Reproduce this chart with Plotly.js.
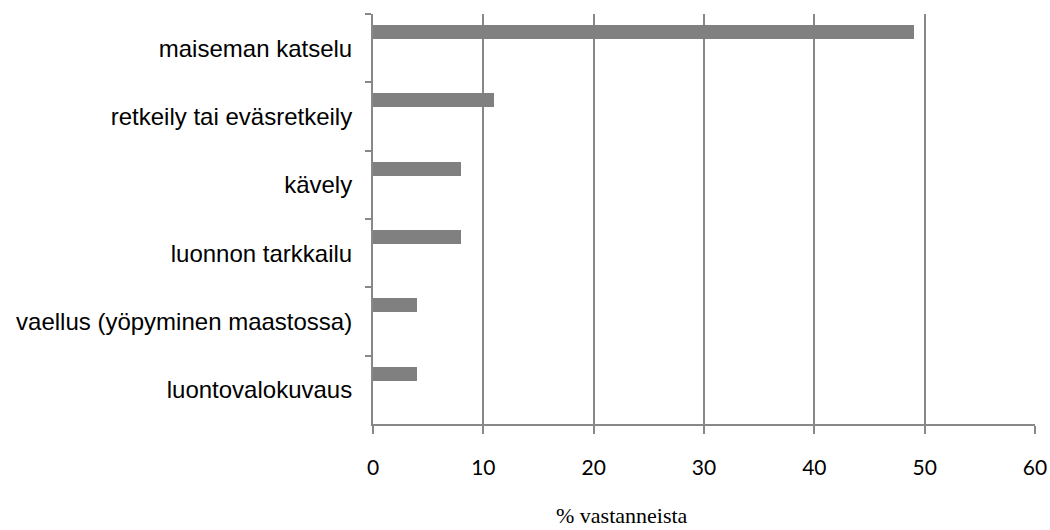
<!DOCTYPE html>
<html>
<head>
<meta charset="utf-8">
<script src="https://cdn.plot.ly/plotly-3.0.1.min.js"></script>
<style>html,body{margin:0;padding:0;background:#fff;}#chart{width:1050px;height:530px;}</style>
</head>
<body>
<div id="chart"></div>
<script>
var categories = ["maiseman katselu", "retkeily tai eväsretkeily", "kävely", "luonnon tarkkailu", "vaellus (yöpyminen maastossa)", "luontovalokuvaus"];
var values = [49, 11, 8, 8, 4, 4];
var xTicks = [0, 10, 20, 30, 40, 50, 60];
var xTitle = "% vastanneista";

var axisColor = "#888888";

var trace = {
  type: "bar",
  orientation: "h",
  y: categories,
  x: values,
  width: 0.205,
  offset: -0.34,
  marker: {color: "#808080", line: {width: 0}},
  hoverinfo: "x+y"
};

var layout = {
  width: 1050,
  height: 530,
  margin: {l: 373, r: 15, t: 14, b: 106, pad: 0},
  paper_bgcolor: "#ffffff",
  plot_bgcolor: "#ffffff",
  showlegend: false,
  bargap: 0,
  xaxis: {
    range: [0, 60],
    tickvals: xTicks,
    ticktext: xTicks.map(String),
    showgrid: true,
    gridcolor: axisColor,
    gridwidth: 2,
    zeroline: false,
    showline: true,
    linecolor: axisColor,
    linewidth: 2,
    ticks: "outside",
    ticklen: 8,
    tickwidth: 2,
    tickcolor: axisColor,
    ticklabelstandoff: 16,
    tickfont: {family: "Lato, 'Open Sans', sans-serif", size: 21, color: "#000000"},
    fixedrange: true
  },
  yaxis: {
    type: "category",
    categoryorder: "array",
    categoryarray: categories,
    autorange: "reversed",
    showgrid: false,
    zeroline: false,
    showline: true,
    linecolor: axisColor,
    linewidth: 2,
    ticks: "outside",
    tickson: "boundaries",
    ticklen: 6,
    tickwidth: 2,
    tickcolor: axisColor,
    ticklabelstandoff: 14,
    tickfont: {family: "'Liberation Sans', Arial, sans-serif", size: 24, color: "#000000"},
    fixedrange: true
  },
  annotations: [{
    text: xTitle,
    xref: "paper", yref: "paper",
    x: 0.376, y: -0.224,
    xanchor: "center", yanchor: "middle",
    showarrow: false,
    font: {family: "'Liberation Serif', 'Times New Roman', serif", size: 22, color: "#000000"}
  }]
};

Plotly.newPlot("chart", [trace], layout, {displayModeBar: false, staticPlot: true});
</script>
</body>
</html>
